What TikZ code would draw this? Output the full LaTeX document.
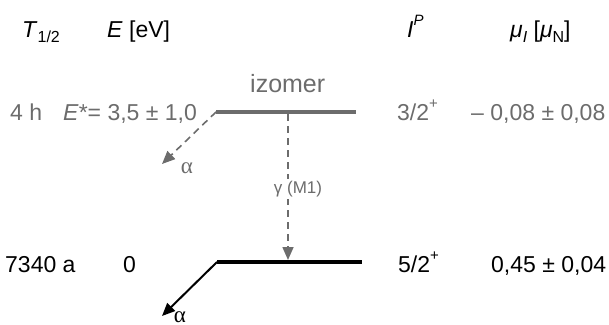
\documentclass[tikz,border=0pt]{standalone}
\usepackage{fontspec}
\setmainfont{Liberation Sans}
\newfontfamily\serifgr{Liberation Serif}
\usetikzlibrary{arrows.meta}
\definecolor{lvgray}{RGB}{108,108,108}
\newcommand{\upsc}[1]{\raisebox{0.5em}{\fontsize{15}{15}\selectfont #1}}
\newcommand{\dnsc}[1]{\raisebox{-0.22em}{\fontsize{16}{16}\selectfont #1}}
\tikzset{
  txt/.style={inner sep=0pt, anchor=base west, font=\fontsize{23}{27}\selectfont},
  gtxt/.style={txt, text=lvgray},
  levelup/.style={line width=4pt, draw=lvgray},
  levellow/.style={line width=4pt, draw=black},
  gdash/.style={draw=lvgray, line width=1.6pt, dash pattern=on 7pt off 5pt,
    -{Triangle[length=13pt,width=11pt]}},
  adecay/.style={draw=black, line width=2pt, -{Triangle[length=13pt,width=11pt]}},
  alab/.style={inner sep=0pt, anchor=base, font=\serifgr\fontsize{23}{24}\selectfont}
}
\begin{document}
\begin{tikzpicture}[x=1pt,y=-1pt]
\useasboundingbox (0,0) rectangle (609,324);
\clip (0,0) rectangle (609,324);
% header
\node[txt] (hT) at (22,37) {\textit{T}\dnsc{1/2}};
\node[txt] (hE) at (107,37) {\textit{E} [eV]};
\node[txt] (hI) at (407,37) {\textit{I}\upsc{\textit{P}}};
\node[txt] (hmu) at (510,37) {\textit{μ}\dnsc{\textit{I}} [\textit{μ}\dnsc{N}]};
% isomer row
\node[gtxt] (t1) at (10,120) {4 h};
\node[gtxt] (e1) at (63,120) {\textit{E}*= 3,5 ± 1,0};
\node[gtxt] (s1) at (397,120) {3/2\upsc{+}};
\node[gtxt] (m1) at (471,120) {– 0,08 ± 0,08};
\node[gtxt, font=\fontsize{25}{28}\selectfont] (iz) at (250,92) {izomer};
% ground row
\node[txt] (t0) at (5,272) {7340 a};
\node[txt] (e0) at (123,272) {0};
\node[txt] (s0) at (398,272) {5/2\upsc{+}};
\node[txt] (m0) at (491,272) {0,45 ± 0,04};
% levels
\coordinate (uL) at (216,112);
\coordinate (uR) at (356,112);
\coordinate (lL) at (217,262);
\coordinate (lR) at (362,262);
\coordinate (g1) at (288,114);
\coordinate (g2) at (288,260);
\coordinate (a1) at (162,164);
\coordinate (a2) at (162,316);
\draw[levelup] (uL) -- (uR);
\draw[levellow] (lL) -- (lR);
% transitions
\draw[gdash] (uL) -- (a1);
\draw[adecay] (lL) -- (a2);
\draw[gdash] (g1) -- (g2);
\node[inner sep=2pt, fill=white, text=lvgray, font=\fontsize{17}{19}\selectfont] (gl) at (298,189) {γ (M1)};
\node[alab, text=lvgray] (al1) at (187,173) {α};
\node[alab, anchor=south] (al2) at (180,323) {α};
\end{tikzpicture}
\end{document}
